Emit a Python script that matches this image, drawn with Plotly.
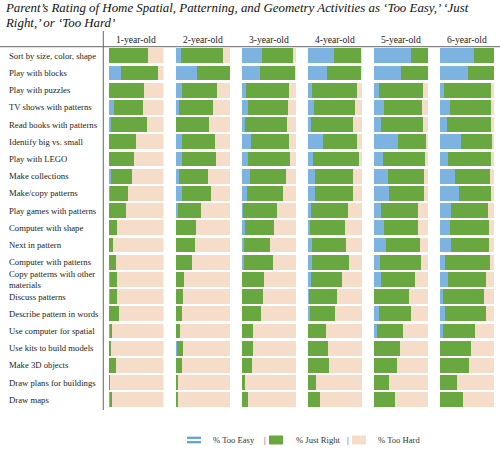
import plotly.graph_objects as go

activities = [
    "Sort by size, color, shape", "Play with blocks", "Play with puzzles",
    "TV shows with patterns", "Read books with patterns", "Identify big vs. small",
    "Play with LEGO", "Make collections", "Make/copy patterns",
    "Play games with patterns", "Computer with shape", "Next in pattern",
    "Computer with patterns", "Copy patterns with other materials",
    "Discuss patterns", "Describe pattern in words", "Use computer for spatial",
    "Use kits to build models", "Make 3D objects", "Draw plans for buildings",
    "Draw maps",
]
ages = ["1-year-old", "2-year-old", "3-year-old", "4-year-old", "5-year-old", "6-year-old"]

easy_1 = [0, 22, 0, 10, 4, 0, 0, 4, 1, 0, 0, 0, 0, 1, 1, 0, 1, 0, 0, 0, 1]
right_1 = [72, 67, 65, 52, 65, 49, 46, 38, 33, 31, 14, 7, 12, 13, 13, 19, 4, 4, 12, 2, 4]
hard_1 = [28, 11, 35, 38, 31, 51, 54, 58, 66, 69, 86, 93, 88, 86, 86, 81, 95, 96, 88, 98, 95]

easy_2 = [10, 40, 12, 7, 0, 12, 11, 7, 11, 4, 0, 1, 0, 0, 0, 0, 0, 2, 0, 0, 1]
right_2 = [77, 60, 65, 61, 62, 60, 64, 53, 54, 42, 37, 34, 30, 16, 14, 12, 8, 12, 12, 4, 3]
hard_2 = [13, 0, 23, 32, 38, 28, 25, 40, 35, 54, 63, 65, 70, 84, 86, 88, 92, 86, 88, 96, 96]

easy_3 = [37, 34, 8, 12, 6, 17, 12, 15, 10, 2, 7, 5, 4, 1, 0, 1, 1, 0, 0, 0, 0]
right_3 = [58, 64, 79, 73, 78, 70, 77, 66, 66, 63, 52, 48, 53, 40, 39, 34, 20, 22, 19, 7, 12]
hard_3 = [5, 2, 13, 15, 16, 13, 11, 19, 24, 35, 41, 47, 43, 59, 61, 65, 79, 78, 81, 93, 88]

easy_4 = [49, 36, 9, 12, 7, 29, 10, 14, 14, 7, 5, 9, 8, 7, 3, 4, 1, 0, 0, 0, 0]
right_4 = [49, 62, 82, 75, 77, 62, 85, 70, 70, 67, 63, 62, 68, 56, 51, 46, 33, 38, 39, 15, 23]
hard_4 = [2, 2, 9, 13, 16, 9, 5, 16, 16, 26, 32, 29, 24, 37, 46, 50, 66, 62, 61, 85, 77]

easy_5 = [68, 50, 10, 20, 13, 45, 18, 27, 29, 13, 20, 23, 12, 13, 1, 10, 7, 0, 0, 0, 1]
right_5 = [32, 50, 80, 69, 77, 51, 76, 66, 63, 69, 62, 62, 75, 64, 65, 59, 48, 48, 43, 28, 38]
hard_5 = [0, 0, 10, 11, 10, 4, 6, 7, 8, 18, 18, 15, 13, 23, 34, 31, 45, 52, 57, 72, 61]

easy_6 = [64, 52, 9, 19, 14, 40, 15, 28, 35, 22, 20, 21, 10, 15, 6, 10, 6, 0, 0, 0, 1]
right_6 = [36, 48, 86, 76, 80, 57, 80, 65, 59, 67, 70, 70, 83, 70, 75, 75, 60, 58, 55, 33, 43]
hard_6 = [0, 0, 5, 5, 6, 3, 5, 7, 6, 11, 10, 9, 7, 15, 19, 15, 34, 42, 45, 67, 56]

series_names = ["% Too Easy", "% Just Right", "% Too Hard"]
panel_data = [
    (easy_1, right_1, hard_1), (easy_2, right_2, hard_2), (easy_3, right_3, hard_3),
    (easy_4, right_4, hard_4), (easy_5, right_5, hard_5), (easy_6, right_6, hard_6),
]

C_EASY = "#7DB3E1"
C_RIGHT = "#69A841"
C_HARD = "#F5DDC9"
colors = [C_EASY, C_RIGHT, C_HARD]
FONT = "Liberation Serif, Times New Roman, serif"

W, H = 500, 450
def px(x):
    return x / W
def py(y):
    return 1 - y / H

panel_px = [(109, 163.5), (175.5, 230), (241.5, 296), (307.5, 362), (373.5, 428), (439.5, 494)]
y_dom = [py(408.4), py(47.2)]

fig = go.Figure()
layout = {}
for i, (vals, (x0, x1)) in enumerate(zip(panel_data, panel_px)):
    k = i + 1
    xa = "x" if k == 1 else f"x{k}"
    ya = "y" if k == 1 else f"y{k}"
    for v, name, col in zip(vals, series_names, colors):
        fig.add_trace(go.Bar(
            x=v, y=activities, orientation="h", name=name,
            marker=dict(color=col, line=dict(width=0)),
            xaxis=xa, yaxis=ya, showlegend=False, hoverinfo="x+y+name",
        ))
    layout[f"xaxis{k}"] = dict(domain=[px(x0), px(x1)], range=[0, 100], visible=False,
                               anchor=ya, fixedrange=True)
    yd = dict(domain=y_dom, type="category", categoryorder="array",
              categoryarray=activities, range=[20.5, -0.5], visible=False,
              anchor=xa)
    if k > 1:
        yd["matches"] = "y"
    layout[f"yaxis{k}"] = yd

fig.update_layout(**layout)

annotations = []
# title
annotations.append(dict(
    text="<i>Parent’s Rating of Home Spatial, Patterning, and Geometry Activities as ‘Too Easy,’ ‘Just</i>",
    x=px(2.5), y=py(8), xref="paper", yref="paper", xanchor="left", yanchor="middle",
    showarrow=False, font=dict(family=FONT, size=12.9, color="#111")))
annotations.append(dict(
    text="<i>Right,’ or ‘Too Hard’</i>",
    x=px(2.5), y=py(23.5), xref="paper", yref="paper", xanchor="left", yanchor="middle",
    showarrow=False, font=dict(family=FONT, size=12.9, color="#111")))
# headers
for age, (x0, x1) in zip(ages, panel_px):
    annotations.append(dict(text=age, x=px((x0 + x1) / 2), y=py(39.5), xref="paper", yref="paper",
                            xanchor="center", yanchor="middle", showarrow=False,
                            font=dict(family=FONT, size=9.6, color="#222")))
# row labels
for a in activities:
    t = a
    if a == "Copy patterns with other materials":
        t = "Copy patterns with other<br>materials"
    annotations.append(dict(text=t, x=px(7), y=a, xref="paper", yref="y", xanchor="left",
                            yanchor="middle", align="left", showarrow=False,
                            font=dict(family=FONT, size=8.7, color="#222")))
# legend texts
for txt, xl in [("% Too Easy", 211), ("|", 261.5), ("% Just Right", 294), ("|", 344.5), ("% Too Hard", 376)]:
    annotations.append(dict(text=txt, x=px(xl), y=py(440), xref="paper", yref="paper",
                            xanchor="left", yanchor="middle", showarrow=False,
                            font=dict(family=FONT, size=8.6, color="#333")))

shapes = [
    dict(type="line", xref="paper", yref="paper", x0=0, x1=1, y0=py(46.7), y1=py(46.7),
         line=dict(color="#666", width=1)),
    dict(type="line", xref="paper", yref="paper", x0=px(103.3), x1=px(103.3), y0=py(31), y1=py(410),
         line=dict(color="#666", width=1)),
    # legend symbols
    dict(type="line", xref="paper", yref="paper", x0=px(187), x1=px(201), y0=py(437.8), y1=py(437.8),
         line=dict(color="#5AA0DA", width=2.2)),
    dict(type="line", xref="paper", yref="paper", x0=px(187), x1=px(201), y0=py(442.2), y1=py(442.2),
         line=dict(color="#5AA0DA", width=2.2)),
    dict(type="rect", xref="paper", yref="paper", x0=px(269), x1=px(283), y0=py(444.5), y1=py(435.5),
         fillcolor=C_RIGHT, line=dict(width=0)),
    dict(type="rect", xref="paper", yref="paper", x0=px(352), x1=px(366), y0=py(444.5), y1=py(435.5),
         fillcolor=C_HARD, line=dict(width=0)),
]

fig.update_layout(
    width=W, height=H, margin=dict(l=0, r=0, t=0, b=0),
    paper_bgcolor="white", plot_bgcolor="white",
    barmode="stack", bargap=0.15, showlegend=False,
    annotations=annotations, shapes=shapes,
    font=dict(family=FONT),
)

fig.write_html("out.html", config={"displayModeBar": False},
               post_script="document.body.style.margin='0';document.body.style.overflow='hidden';")
